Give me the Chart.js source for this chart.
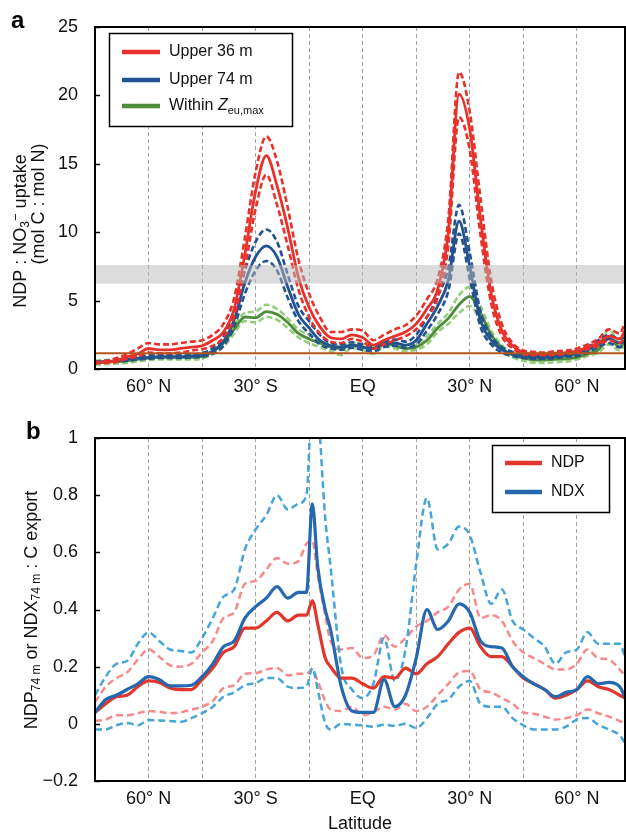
<!DOCTYPE html>
<html>
<head>
<meta charset="utf-8">
<script src="https://cdn.jsdelivr.net/npm/chart.js@4.4.1/dist/chart.umd.min.js"></script>
<style>
  body { margin: 0; background: #fff; }
  #wrap { position: relative; width: 626px; height: 835px; }
  .panel { position: absolute; left: 0; width: 626px; }
  #boxA { top: 0; height: 400px; }
  #boxB { top: 400px; height: 435px; }
  .letter { position: absolute; font: bold 24px "Liberation Sans", Arial, sans-serif; color: #000; }
</style>
</head>
<body>
<div id="wrap">
  <div class="panel" id="boxA"><canvas id="chartA" width="626" height="400"></canvas></div>
  <div class="panel" id="boxB"><canvas id="chartB" width="626" height="435"></canvas></div>
  <div class="letter" style="left:11px;top:6px">a</div>
  <div class="letter" style="left:26px;top:417px">b</div>
</div>
<script>
// x positions along the transect (grid line every 10 units)
const gridLats = [10, 20, 30, 40, 50, 60, 70, 80, 90]
const latTickPos = [10, 30, 50, 70, 90]
const latTickText = ['60° N', '30° S', 'EQ', '30° N', '60° N']

// ---- panel a : NDP : NO3- uptake
const latA = [0,2,4,6,8,10,12,14,16,18,20,22,24,26,28,30,32,34,36,38,40,42,44,46,48,50,52,54,56,58,60,62,64,66,68,70,72,74,76,78,80,82,84,86,88,90,92,94,96,98,99]
const red36 = [0.45,0.5,0.6,0.9,1.1,1.5,1.4,1.4,1.5,1.6,1.7,2.1,2.7,4.4,8.4,13.0,15.6,13.4,10.3,6.7,4.5,3.1,2.3,2.2,2.5,2.3,1.75,2.1,2.4,2.7,3.3,4.4,5.8,10.0,20.1,17.5,11.0,5.5,2.8,1.7,1.2,1.1,1.1,1.15,1.2,1.3,1.6,1.9,2.4,2.2,2.8]
const red36Hi = [0.5,0.6,0.8,1.1,1.5,1.9,1.8,1.8,1.9,2.0,2.1,2.5,3.3,5.2,9.6,14.4,17.0,15.2,11.8,8.0,5.5,3.8,2.7,2.7,2.9,2.8,2.1,2.5,2.9,3.2,3.9,5.1,6.6,11.0,21.7,18.8,12.5,6.5,3.3,1.9,1.35,1.25,1.2,1.3,1.35,1.5,1.8,2.2,2.9,2.6,3.4]
const red36Lo = [0.4,0.45,0.5,0.75,0.9,1.2,1.15,1.15,1.2,1.35,1.45,1.7,2.3,3.8,7.4,11.7,14.2,12.0,9.0,5.8,3.8,2.6,2.0,1.9,2.2,2.0,1.5,1.8,2.1,2.4,2.9,3.8,5.2,9.0,18.4,16.0,9.8,4.8,2.4,1.5,1.1,1.0,1.0,1.05,1.1,1.2,1.45,1.7,2.1,1.9,2.3]
const blue74 = [0.5,0.55,0.6,0.7,0.8,0.85,0.9,0.9,0.9,0.95,1.0,1.3,2.0,3.6,6.3,8.2,9.0,8.2,6.0,4.0,3.0,2.1,1.7,1.6,1.75,1.6,1.5,1.8,1.9,1.75,2.1,3.3,4.6,6.5,10.8,7.5,3.6,2.1,1.4,1.1,0.9,0.85,0.85,0.9,1.0,1.1,1.4,1.8,2.2,1.9,2.0]
const blue74Hi = [0.55,0.6,0.7,0.8,0.9,1.0,1.0,1.0,1.0,1.05,1.15,1.5,2.4,4.2,7.2,9.3,10.2,9.3,6.9,4.6,3.5,2.5,1.9,1.8,1.95,1.8,1.7,2.0,2.15,2.0,2.5,3.8,5.3,7.4,12.0,8.5,4.2,2.4,1.6,1.25,1.0,0.95,0.95,1.0,1.1,1.25,1.6,2.1,2.5,2.2,2.3]
const blue74Lo = [0.45,0.5,0.55,0.6,0.7,0.75,0.8,0.8,0.8,0.85,0.9,1.1,1.7,3.1,5.5,7.2,7.9,7.2,5.2,3.5,2.6,1.8,1.5,1.4,1.55,1.4,1.3,1.6,1.7,1.55,1.8,2.8,4.0,5.7,9.9,6.6,3.1,1.8,1.2,0.95,0.8,0.75,0.75,0.8,0.9,0.95,1.2,1.6,1.9,1.6,1.7]
const greenEu = [0.45,0.5,0.55,0.6,0.7,0.8,0.85,0.85,0.85,0.85,0.9,1.3,1.9,2.9,3.8,3.75,4.2,4.0,3.4,2.6,2.2,1.9,1.6,1.5,1.75,1.6,1.5,1.9,1.7,1.5,1.6,2.1,3.0,3.7,4.7,5.3,4.1,2.5,1.55,1.0,0.8,0.65,0.65,0.7,0.75,0.85,1.1,1.4,2.3,1.6,2.1]
const greenEuHi = [0.6,0.65,0.7,0.75,0.85,0.95,1.0,1.0,1.0,1.0,1.05,1.5,2.2,3.2,4.1,4.2,4.7,4.4,3.7,2.9,2.5,2.1,1.8,1.7,1.9,1.75,1.65,2.1,1.9,1.7,1.8,2.4,3.3,4.1,5.4,6.0,4.6,2.8,1.75,1.15,0.9,0.8,0.8,0.85,0.9,1.0,1.25,1.6,2.9,1.9,2.5]
const greenEuLo = [0.3,0.35,0.4,0.45,0.55,0.65,0.7,0.7,0.7,0.7,0.75,1.1,1.6,2.6,3.5,3.4,3.8,3.6,3.0,2.3,1.9,1.6,1.3,1.0,1.55,1.4,1.1,1.7,1.5,1.3,1.4,1.8,2.7,3.3,4.1,4.6,3.6,2.2,1.35,0.85,0.6,0.45,0.45,0.5,0.55,0.7,0.95,1.2,1.8,1.35,1.8]
const refLineA = 1.15
const redfieldBand = [6.25, 7.6]

// ---- panel b : NDP / NDX : C export
const latB = [0,2,4,6,8,10,12,14,16,18,20,22,24,26,28,30,32,34,36,38,39.5,40.6,41.6,43,44,46,48,50,52,54,56,58,60,62,64,66,68,70,72,74,76,78,80,82,84,86,88,90,92,94,96,98,99]
const ndp = [0.04,0.07,0.095,0.10,0.13,0.15,0.145,0.125,0.12,0.12,0.155,0.195,0.25,0.27,0.335,0.335,0.36,0.39,0.36,0.38,0.38,0.43,0.35,0.23,0.2,0.16,0.16,0.14,0.125,0.165,0.16,0.195,0.175,0.21,0.235,0.28,0.32,0.335,0.27,0.235,0.235,0.2,0.16,0.14,0.12,0.09,0.10,0.12,0.15,0.13,0.12,0.10,0.09]
const ndpHi = [0.075,0.13,0.16,0.18,0.225,0.26,0.235,0.205,0.2,0.21,0.25,0.29,0.37,0.39,0.49,0.50,0.54,0.58,0.56,0.57,0.63,0.64,0.52,0.38,0.29,0.26,0.265,0.23,0.24,0.31,0.27,0.30,0.34,0.36,0.39,0.41,0.47,0.49,0.37,0.38,0.36,0.29,0.25,0.23,0.21,0.19,0.19,0.21,0.26,0.23,0.225,0.19,0.17]
const ndpLo = [0.01,0.015,0.03,0.03,0.037,0.045,0.042,0.037,0.04,0.05,0.06,0.08,0.125,0.135,0.175,0.177,0.19,0.195,0.17,0.175,0.175,0.19,0.15,0.08,0.05,0.045,0.06,0.03,0.04,0.06,0.05,0.07,0.045,0.06,0.1,0.14,0.18,0.185,0.12,0.11,0.09,0.07,0.04,0.035,0.025,0.015,0.02,0.03,0.05,0.037,0.025,0.01,0.0]
const ndx = [0.04,0.085,0.10,0.12,0.14,0.165,0.155,0.133,0.133,0.135,0.165,0.21,0.27,0.29,0.37,0.41,0.44,0.48,0.44,0.46,0.46,0.77,0.55,0.40,0.33,0.13,0.045,0.04,0.04,0.155,0.06,0.10,0.23,0.40,0.33,0.36,0.42,0.39,0.29,0.27,0.265,0.2,0.165,0.14,0.12,0.095,0.11,0.12,0.165,0.14,0.145,0.13,0.095]
const ndxHi = [0.1,0.165,0.21,0.22,0.28,0.32,0.29,0.26,0.255,0.25,0.3,0.37,0.445,0.47,0.61,0.68,0.73,0.8,0.75,0.77,0.8,1.15,1.1,0.72,0.55,0.2,0.12,0.09,0.14,0.3,0.15,0.26,0.56,0.79,0.61,0.63,0.69,0.66,0.53,0.42,0.47,0.36,0.33,0.30,0.27,0.21,0.25,0.26,0.32,0.28,0.28,0.28,0.235]
const ndxLo = [-0.02,-0.02,-0.005,0.003,-0.005,0.013,0.012,0.01,0.007,0.02,0.037,0.06,0.095,0.11,0.135,0.143,0.16,0.16,0.13,0.125,0.13,0.195,0.12,0.003,-0.02,0.0,-0.003,-0.005,-0.01,-0.003,-0.007,0.0,-0.015,0.02,0.07,0.085,0.13,0.15,0.07,0.06,0.06,0.02,-0.005,-0.02,-0.02,-0.02,-0.01,0.015,0.02,-0.003,-0.02,-0.04,-0.067]

const FONT = '"Liberation Sans", Arial, Helvetica, sans-serif'
Chart.defaults.font.family = FONT
Chart.defaults.color = '#111'
Chart.defaults.animation = false

const col = {
  red: '#e8312b', blue: '#22528f', green: '#4e8b3b', greenLight: '#93cf78', brown: '#b4541c',
  ndp: '#e2352b', ndx: '#2568b0', pink: '#f8898a', sky: '#45a4d8'
}

function f(size, style) {
  return (style ? style + ' ' : '') + size + 'px ' + FONT
}

function pts(xs, ys) {
  return xs.map((x, i) => ({ x: x, y: ys[i] }))
}

function line(label, xs, ys, color, width, dash) {
  return {
    label: label,
    data: pts(xs, ys),
    borderColor: color,
    borderWidth: width,
    borderDash: dash || [],
    pointRadius: 0,
    fill: false,
    cubicInterpolationMode: 'monotone'
  }
}

// text with sub/superscript runs
function drawRuns(ctx, runs, x, y, align) {
  ctx.textBaseline = 'middle'
  ctx.textAlign = 'left'
  let w = 0
  for (const r of runs) { ctx.font = r.font; w += ctx.measureText(r.t).width }
  let cx = align == 'center' ? x - w / 2 : x
  for (const r of runs) {
    ctx.font = r.font
    ctx.fillText(r.t, cx, y + (r.dy || 0))
    cx += ctx.measureText(r.t).width
  }
}

function drawRotated(ctx, runs, x, y) {
  ctx.save()
  ctx.translate(x, y)
  ctx.rotate(-Math.PI / 2)
  drawRuns(ctx, runs, 0, 0, 'center')
  ctx.restore()
}

function drawLegend(ctx, box, rows) {
  ctx.save()
  ctx.fillStyle = '#fff'
  ctx.fillRect(box[0], box[1], box[2], box[3])
  ctx.strokeStyle = '#000'
  ctx.lineWidth = 1.5
  ctx.strokeRect(box[0] + 0.5, box[1] + 0.5, box[2], box[3])
  for (const row of rows) {
    ctx.strokeStyle = row.color
    ctx.lineWidth = 4.5
    ctx.beginPath()
    ctx.moveTo(row.x0, row.y)
    ctx.lineTo(row.x1, row.y)
    ctx.stroke()
    ctx.fillStyle = '#111'
    drawRuns(ctx, row.runs, row.x1 + 9, row.y, 'left')
  }
  ctx.restore()
}

const framePlugin = {
  id: 'frame',
  afterDraw(chart) {
    const { ctx, chartArea: a, scales: { y } } = chart
    ctx.save()
    ctx.strokeStyle = '#000'
    ctx.lineWidth = 1.5
    y.ticks.forEach(t => {
      const py = Math.round(y.getPixelForValue(t.value)) + 0.5
      ctx.beginPath()
      ctx.moveTo(a.left, py)
      ctx.lineTo(a.left + 5, py)
      ctx.stroke()
    })
    ctx.lineWidth = 2
    ctx.strokeRect(a.left, a.top, a.right - a.left, a.bottom - a.top)
    ctx.restore()
  }
}

function xScale(extra) {
  return Object.assign({
    type: 'linear',
    min: 0,
    max: 99,
    afterBuildTicks: s => { s.ticks = gridLats.map(v => ({ value: v })) },
    afterFit: extra.fit,
    grid: { color: '#a0a0a0', lineWidth: 1, drawTicks: false },
    border: { display: false, dash: [4, 3] },
    ticks: {
      font: { size: 18 }, color: '#111', padding: 7, maxRotation: 0, autoSkip: false,
      callback: v => { const i = latTickPos.indexOf(v); return i >= 0 ? latTickText[i] : '' }
    }
  }, extra.more || {})
}

// ---------------- chart a
const bandPlugin = {
  id: 'band',
  afterDatasetsDraw(chart) {
    const { ctx, chartArea: a, scales: { y } } = chart
    const top = y.getPixelForValue(redfieldBand[1])
    const bot = y.getPixelForValue(redfieldBand[0])
    ctx.save()
    ctx.fillStyle = 'rgba(185, 185, 185, 0.5)'
    ctx.fillRect(a.left, top, a.right - a.left, bot - top)
    ctx.restore()
  }
}

const decorA = {
  id: 'decorA',
  afterDraw(chart) {
    const ctx = chart.ctx
    ctx.fillStyle = '#111'
    drawRotated(ctx, [
      { t: 'NDP : NO', font: f(18) },
      { t: '3', font: f(12), dy: 5 },
      { t: '−', font: f(13), dy: -5 },
      { t: ' uptake', font: f(18) }
    ], 21, 231)
    drawRotated(ctx, [{ t: '(mol C : mol N)', font: f(18) }], 39, 204)
    drawLegend(ctx, [109, 33, 183, 93], [
      { y: 52, x0: 122, x1: 160, color: col.red, runs: [{ t: 'Upper 36 m', font: f(16) }] },
      { y: 80, x0: 122, x1: 160, color: col.blue, runs: [{ t: 'Upper 74 m', font: f(16) }] },
      { y: 106, x0: 122, x1: 160, color: col.green, runs: [
        { t: 'Within ', font: f(16) },
        { t: 'Z', font: f(16, 'italic') },
        { t: 'eu,max', font: f(11), dy: 5 }
      ] }
    ])
  }
}

const dashA = [6, 3]
new Chart(document.getElementById('chartA'), {
  type: 'line',
  data: {
    datasets: [
      line('ref', [latA[0], latA[latA.length - 1]], [refLineA, refLineA], col.brown, 1.8),
      line('Upper 36 m', latA, red36, col.red, 2.8),
      line('36 hi', latA, red36Hi, col.red, 2.6, dashA),
      line('36 lo', latA, red36Lo, col.red, 2.6, dashA),
      line('Upper 74 m', latA, blue74, col.blue, 2.8),
      line('74 hi', latA, blue74Hi, col.blue, 2.6, dashA),
      line('74 lo', latA, blue74Lo, col.blue, 2.6, dashA),
      line('Within Zeu,max', latA, greenEu, col.green, 2.8),
      line('eu hi', latA, greenEuHi, col.greenLight, 2.6, dashA),
      line('eu lo', latA, greenEuLo, col.greenLight, 2.6, dashA)
    ]
  },
  options: {
    responsive: false,
    layout: { padding: { top: 27, right: 1, left: 0, bottom: 0 } },
    plugins: { legend: { display: false }, tooltip: { enabled: false } },
    scales: {
      x: xScale({ fit: s => { s.height = 31 } }),
      y: {
        min: 0, max: 25,
        afterFit: s => { s.width = 95 },
        grid: { display: false },
        border: { display: false },
        ticks: { stepSize: 5, font: { size: 18 }, color: '#111', padding: 9 }
      }
    }
  },
  plugins: [bandPlugin, framePlugin, decorA]
})

// ---------------- chart b
const decorB = {
  id: 'decorB',
  afterDraw(chart) {
    const ctx = chart.ctx
    ctx.fillStyle = '#111'
    drawRotated(ctx, [
      { t: 'NDP', font: f(18) },
      { t: '74 m', font: f(12), dy: 5 },
      { t: ' or NDX', font: f(18) },
      { t: '74 m', font: f(12), dy: 5 },
      { t: ' : C export', font: f(18) }
    ], 32, 210)
    drawLegend(ctx, [492, 45, 117, 67], [
      { y: 63, x0: 505, x1: 542, color: col.ndp, runs: [{ t: 'NDP', font: f(16) }] },
      { y: 92, x0: 505, x1: 542, color: col.ndx, runs: [{ t: 'NDX', font: f(16) }] }
    ])
  }
}

const dashB = [7, 4]
new Chart(document.getElementById('chartB'), {
  type: 'line',
  data: {
    datasets: [
      line('NDX', latB, ndx, col.ndx, 3.2),
      line('NDP', latB, ndp, col.ndp, 3.2),
      line('NDX hi', latB, ndxHi, col.sky, 2.5, dashB),
      line('NDX lo', latB, ndxLo, col.sky, 2.5, dashB),
      line('NDP hi', latB, ndpHi, col.pink, 2.5, dashB),
      line('NDP lo', latB, ndpLo, col.pink, 2.5, dashB)
    ]
  },
  options: {
    responsive: false,
    layout: { padding: { top: 38, right: 1, left: 0, bottom: 0 } },
    plugins: { legend: { display: false }, tooltip: { enabled: false } },
    scales: {
      x: xScale({
        fit: s => { s.height = 54 },
        more: { title: { display: true, text: 'Latitude', font: { size: 18 }, color: '#111', padding: { top: 2, bottom: 0 } } }
      }),
      y: {
        min: -0.2, max: 1,
        afterFit: s => { s.width = 95 },
        grid: { display: false },
        border: { display: false },
        ticks: {
          stepSize: 0.2, font: { size: 18 }, color: '#111', padding: 9,
          callback: v => (Math.round(v * 10) / 10).toString().replace('-', '−')
        }
      }
    }
  },
  plugins: [framePlugin, decorB]
})
</script>
</body>
</html>
